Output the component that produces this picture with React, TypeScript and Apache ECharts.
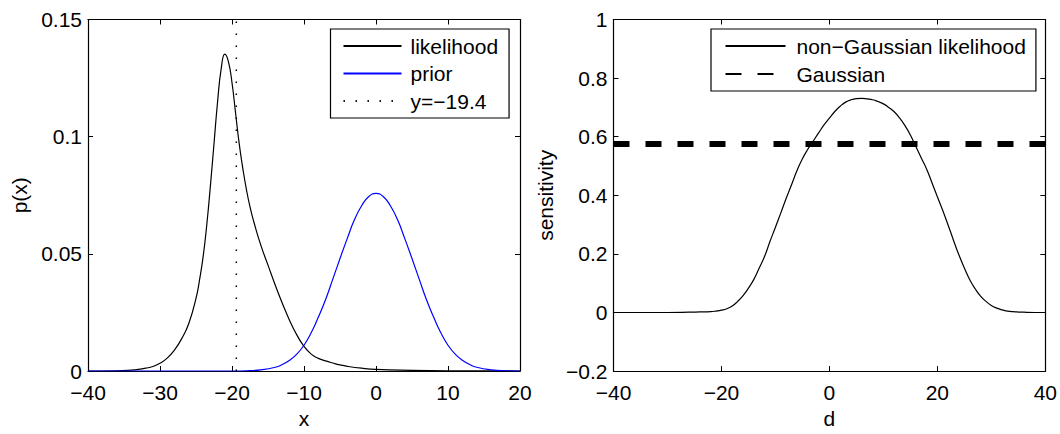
import React, { useEffect, useRef } from "react";
import * as echarts from "echarts";

// ---- Left panel data ----
const likelihoodX = [-40, -36, -34, -33, -32, -31, -30, -29, -28, -27, -26, -25, -24.5, -24, -23.5, -23, -22.5, -22, -21.5, -21, -20.5, -20, -19.5, -19, -18.5, -18, -17.5, -17, -16, -15, -14, -13, -12, -11, -10, -9, -8, -7, -6, -5, -4, -2, 0, 5, 10, 20];
const likelihoodY = [0, 0.0001, 0.0004, 0.0007, 0.0012, 0.0019, 0.0033, 0.0055, 0.0089, 0.0137, 0.0203, 0.031, 0.039, 0.049, 0.0625, 0.079, 0.097, 0.115, 0.129, 0.1352, 0.132, 0.123, 0.11, 0.097, 0.0865, 0.0775, 0.07, 0.064, 0.0537, 0.0452, 0.0367, 0.0288, 0.0216, 0.0154, 0.0105, 0.0072, 0.0054, 0.0043, 0.0034, 0.0026, 0.002, 0.0012, 0.0007, 0.0003, 0.0001, 0];

const priorX = [-40, -20, -18, -16, -14, -13, -12, -11, -10, -9, -8, -7, -6, -5, -4, -3, -2, -1, 0, 1, 2, 3, 4, 5, 6, 7, 8, 9, 10, 11, 12, 13, 14, 16, 18, 20];
const priorY = [0, 0, 0.0001, 0.0005, 0.0016, 0.0028, 0.0046, 0.0072, 0.011, 0.0163, 0.023, 0.0305, 0.0392, 0.048, 0.0565, 0.0645, 0.0705, 0.0745, 0.0758, 0.0745, 0.0705, 0.0645, 0.0565, 0.048, 0.0392, 0.0305, 0.023, 0.0163, 0.011, 0.0072, 0.0046, 0.0028, 0.0016, 0.0005, 0.0001, 0];

const markerX = -19.4;
const markerSpan = [0, 0.15];

// ---- Right panel data ----
const sensitivityX = [-40, -30, -26, -24, -22, -21, -20, -19, -18, -17, -16, -15, -14, -13, -12, -11, -10, -9, -8, -7, -6, -5, -4, -3, -2, -1, 0, 1, 2, 3, 4, 5, 6, 7, 8, 9, 10, 11, 12, 13, 14, 15, 16, 17, 18, 19, 20, 21, 22, 23, 24, 25, 26, 27, 28, 29, 30, 31, 32, 33, 34, 36, 38, 40];
const sensitivityY = [0, 0, 0.001, 0.002, 0.003, 0.005, 0.008, 0.013, 0.022, 0.038, 0.058, 0.083, 0.113, 0.152, 0.192, 0.243, 0.291, 0.34, 0.39, 0.437, 0.485, 0.525, 0.557, 0.585, 0.613, 0.64, 0.663, 0.686, 0.704, 0.718, 0.726, 0.73, 0.731, 0.729, 0.726, 0.72, 0.712, 0.7, 0.685, 0.664, 0.638, 0.606, 0.567, 0.528, 0.49, 0.443, 0.395, 0.348, 0.298, 0.246, 0.196, 0.152, 0.112, 0.081, 0.056, 0.038, 0.024, 0.015, 0.009, 0.005, 0.003, 0.001, 0, 0];

const gaussianLevel = 0.575;
const gaussianSpan = [-40, 40];

const leftXTicks = { min: -40, max: 20, interval: 10 };
const leftYTicks = { min: 0, max: 0.15, interval: 0.05 };
const rightXTicks = { min: -40, max: 40, interval: 20 };
const rightYTicks = { min: -0.2, max: 1, interval: 0.2 };

const FONT = "Liberation Sans, Arial, Helvetica, sans-serif";
const FS = 21;

const minusFmt = (v: number) => {
  const r = Math.round(v * 1000) / 1000;
  return String(r).replace("-", "\u2212");
};

const zip = (xs: number[], ys: number[]) => xs.map((x, i) => [x, ys[i]]);

export default function App() {
  const ref = useRef<HTMLDivElement>(null);

  useEffect(() => {
    if (!ref.current) return;
    const chart = echarts.init(ref.current, undefined, { renderer: "svg" });

    const axisCommon = {
      type: "value" as const,
      axisLine: { show: true, onZero: false, lineStyle: { color: "#000", width: 1.2 } },
      axisTick: { show: true, inside: true, length: 5, lineStyle: { color: "#000" } },
      splitLine: { show: false },
      axisLabel: {
        color: "#000",
        fontSize: FS,
        fontFamily: FONT,
        formatter: minusFmt,
      },
      nameTextStyle: { color: "#000", fontSize: FS, fontFamily: FONT },
    };

    const mirror = (o: any) => ({
      ...axisCommon,
      ...o,
      axisLabel: { show: false },
    });

    const legendCommon = {
      orient: "vertical",
      top: 29,
      itemHeight: 14,
      borderColor: "#000",
      borderWidth: 1.2,
      backgroundColor: "#fff",
      itemStyle: { opacity: 0 },
    };

    const curve = {
      type: "line",
      symbol: "none",
      smooth: 0.5,
    };

    const option: any = {
      animation: false,
      backgroundColor: "#fff",
      grid: [
        { left: 88, top: 19.5, width: 432, height: 356 },
        { left: 613.5, top: 19.5, width: 433, height: 356 },
      ],
      xAxis: [
        { ...axisCommon, gridIndex: 0, position: "bottom", ...leftXTicks, name: "x", nameLocation: "middle", nameGap: 37, axisLabel: { ...axisCommon.axisLabel, margin: 11 } },
        mirror({ gridIndex: 0, position: "top", ...leftXTicks }),
        { ...axisCommon, gridIndex: 1, position: "bottom", ...rightXTicks, name: "d", nameLocation: "middle", nameGap: 35, axisLabel: { ...axisCommon.axisLabel, margin: 11 } },
        mirror({ gridIndex: 1, position: "top", ...rightXTicks }),
      ],
      yAxis: [
        { ...axisCommon, gridIndex: 0, position: "left", ...leftYTicks, name: "p(x)", nameLocation: "middle", nameGap: 58, axisLabel: { ...axisCommon.axisLabel, margin: 6 } },
        mirror({ gridIndex: 0, position: "right", ...leftYTicks }),
        { ...axisCommon, gridIndex: 1, position: "left", ...rightYTicks, name: "sensitivity", nameLocation: "middle", nameGap: 58, axisLabel: { ...axisCommon.axisLabel, margin: 6 } },
        mirror({ gridIndex: 1, position: "right", ...rightYTicks }),
      ],
      legend: [
        {
          ...legendCommon,
          data: ["likelihood", "prior", "y=\u221219.4"],
          left: 330.5,
          padding: [6.5, 11, 6.5, 12],
          itemGap: 6.5,
          itemWidth: 58,
          textStyle: { color: "#000", fontSize: FS, fontFamily: FONT, lineHeight: 20, padding: [0, 0, 0, 4] },
        },
        {
          ...legendCommon,
          data: ["non\u2212Gaussian likelihood", "Gaussian"],
          left: 711,
          padding: [6.5, 10, 6.5, 13.5],
          itemGap: 7,
          itemWidth: 60,
          textStyle: { color: "#000", fontSize: FS, fontFamily: FONT, lineHeight: 20, padding: [0, 0, 0, 6] },
        },
      ],
      series: [
        {
          ...curve,
          name: "likelihood",
          xAxisIndex: 0,
          yAxisIndex: 0,
          data: zip(likelihoodX, likelihoodY),
          lineStyle: { color: "#000", width: 1.2 },
          itemStyle: { color: "#000" },
        },
        {
          ...curve,
          name: "prior",
          xAxisIndex: 0,
          yAxisIndex: 0,
          data: zip(priorX, priorY),
          lineStyle: { color: "#0000ff", width: 1.2 },
          itemStyle: { color: "#0000ff" },
        },
        {
          name: "y=\u221219.4",
          type: "line",
          xAxisIndex: 0,
          yAxisIndex: 0,
          data: markerSpan.map((y) => [markerX, y]),
          symbol: "none",
          lineStyle: { color: "#000", width: 1.5, type: [1.4, 10.6] },
          itemStyle: { color: "#000" },
        },
        {
          ...curve,
          name: "non\u2212Gaussian likelihood",
          xAxisIndex: 2,
          yAxisIndex: 2,
          data: zip(sensitivityX, sensitivityY),
          lineStyle: { color: "#000", width: 1.2 },
          itemStyle: { color: "#000" },
        },
        {
          name: "Gaussian",
          type: "line",
          xAxisIndex: 2,
          yAxisIndex: 2,
          data: gaussianSpan.map((x) => [x, gaussianLevel]),
          symbol: "none",
          lineStyle: { color: "#000", width: 6, type: [16, 16] },
          itemStyle: { color: "#000" },
        },
      ],
    };

    chart.setOption(option);
    return () => chart.dispose();
  }, []);

  return (
    <div
      ref={ref}
      style={{ position: "absolute", left: 0, top: 0, width: 1060, height: 434, background: "#fff" }}
    />
  );
}
